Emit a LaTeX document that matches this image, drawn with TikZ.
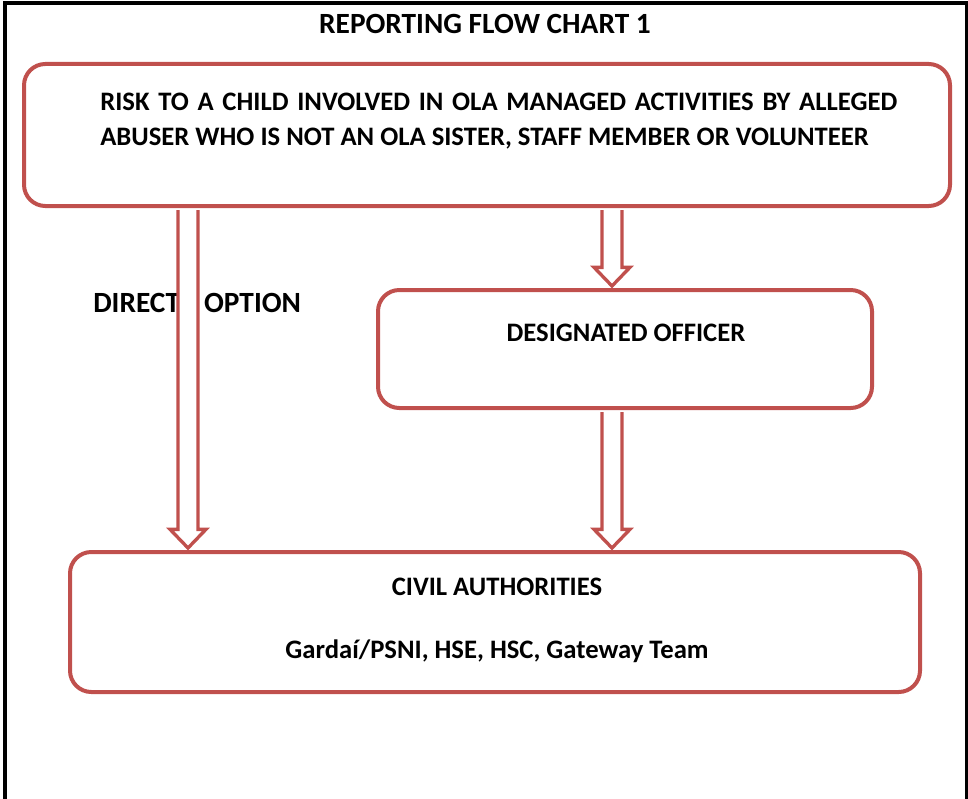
\documentclass[tikz,border=0pt]{standalone}
\usepackage{fontspec}
\setmainfont{Carlito}
\usetikzlibrary{calc}
\definecolor{boxred}{RGB}{192,80,77}

% hollow block arrow going down from #1 to #2
\newcommand\hollowarrow[2]{%
  \draw[hollow] let \p1=(#1), \p2=(#2) in
    (\x1-7.5pt,\y1-1.5pt) -- (\x1-7.5pt,\y2+15.5pt) -- (\x1-13.5pt,\y2+15.5pt)
    -- (\x1,\y2+1.5pt) -- (\x1+13.5pt,\y2+15.5pt) -- (\x1+7.5pt,\y2+15.5pt)
    -- (\x1+7.5pt,\y1-1.5pt);}

\begin{document}
\begin{tikzpicture}[
  x=0.75pt, y=-0.75pt,
  box/.style={draw=boxred,line width=3pt,rounded corners=16pt,inner sep=0pt},
  txt/.style={font=\fontsize{20}{26.25}\selectfont\bfseries,inner sep=0pt},
  bigtxt/.style={txt,font=\fontsize{22}{26}\selectfont\bfseries},
  hollow/.style={draw=boxred,line width=2.5pt,fill=white,line join=miter}]
\useasboundingbox (0,0) rectangle (968,799);
\begin{scope}
  \clip (0,0) rectangle (968,799);
  \draw[line width=3pt] (5,3) rectangle (966.5,840);
\end{scope}

\node[bigtxt] (title) at (485,24) {REPORTING FLOW CHART 1};

% boxes
\node[box,minimum width=694.5pt,minimum height=106.5pt] (risk) at (487,135) {};
\node[box,minimum width=370.5pt,minimum height=88.5pt] (officer) at (625,349) {};
\node[box,minimum width=637.5pt,minimum height=105pt] (civil) at (495,622) {};

\node[txt,anchor=north west,text width=597.75pt,align=justify] (risktxt) at (100,93)
  {RISK TO A CHILD INVOLVED IN OLA MANAGED ACTIVITIES BY ALLEGED\linebreak
   ABUSER WHO IS NOT AN OLA SISTER, STAFF MEMBER OR VOLUNTEER};
\node[txt] (officertxt) at (626,333) {DESIGNATED OFFICER};
\node[txt] (civiltxt) at (497,587) {CIVIL AUTHORITIES};
\node[txt] (civillist) at (497,651) {Gardaí/PSNI, HSE, HSC, Gateway Team};
\node[bigtxt,anchor=west] (direct) at (93,303) {DIRECT\hspace{13pt} OPTION};

% arrows
\coordinate (leftx) at (188,0);
\coordinate (rightx) at (612,0);
\hollowarrow{risk.south -| leftx}{civil.north -| leftx}
\hollowarrow{risk.south -| rightx}{officer.north -| rightx}
\hollowarrow{officer.south -| rightx}{civil.north -| rightx}
\end{tikzpicture}
\end{document}
